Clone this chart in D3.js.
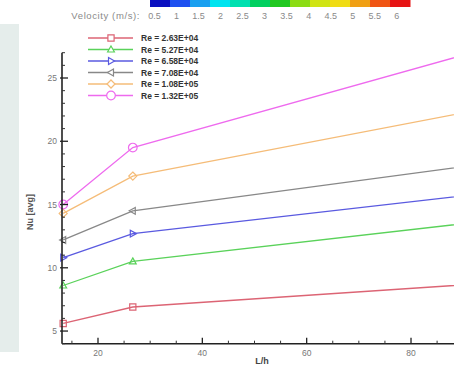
<!DOCTYPE html>
<html>
<head>
<meta charset="utf-8">
<script src="https://cdn.jsdelivr.net/npm/d3@7"></script>
<style>
  html, body { margin: 0; padding: 0; background: #fff; }
  svg { display: block; font-family: "Liberation Sans", Arial, sans-serif; }
</style>
</head>
<body>
<svg id="chart" width="454" height="366"></svg>
<script>
// L/h stations and averaged Nusselt number per Reynolds number
const lh = [13.33, 26.67, 93.33];
const reLabels = ["Re = 2.63E+04", "Re = 5.27E+04", "Re = 6.58E+04", "Re = 7.08E+04", "Re = 1.08E+05", "Re = 1.32E+05"];
const nuRe1 = [5.6, 6.9, 8.74];
const nuRe2 = [8.6, 10.5, 13.64];
const nuRe3 = [10.8, 12.7, 15.84];
const nuRe4 = [12.2, 14.5, 18.18];
const nuRe5 = [14.3, 17.25, 22.5];
const nuRe6 = [15.0, 19.5, 27.19];
const seriesColors = ["#dc6474", "#5ad25a", "#5a5ae0", "#888888", "#f5bc78", "#ee6aee"];
const seriesSymbols = ["square", "delta", "rtri", "ltri", "diamond", "circle"];

// velocity contour legend
const velocityLevels = [0.5, 1, 1.5, 2, 2.5, 3, 3.5, 4, 4.5, 5, 5.5, 6];
const velocityBandColors = ["#0a10c0", "#1e50f0", "#1aa0f0", "#00e4f0", "#00e0b0", "#00d060",
  "#20c820", "#8cdc14", "#d0e414", "#f0dc14", "#f0a014", "#f05514", "#e61414"];

// axis ticks
const xMajor = [20, 40, 60, 80];
const xMinor = d3.range(15, 90, 5);
const yMajor = [5, 10, 15, 20, 25];
const yMinor = d3.range(4, 28, 1);

const svg = d3.select("#chart");

// left side panel
svg.append("rect").attr("x", 0).attr("y", 24).attr("width", 19).attr("height", 328).attr("fill", "#e5edeb");

// ---- colour bar ----
const cb = svg.append("g");
const band = d3.scaleBand().domain(d3.range(velocityBandColors.length)).range([150, 410]);
cb.selectAll("rect").data(velocityBandColors).join("rect")
  .attr("x", (d, i) => band(i)).attr("y", 0)
  .attr("width", band.bandwidth() + 0.5).attr("height", 7)
  .attr("fill", d => d);
const vScale = d3.scaleLinear().domain([0.4, 6.3]).range([150, 410]);
cb.append("text").attr("x", 140).attr("y", 19).attr("text-anchor", "end")
  .attr("font-size", 9.5).attr("letter-spacing", 0.6).attr("fill", "#8a8a8a").text("Velocity (m/s):");
cb.selectAll("text.lv").data(velocityLevels).join("text").attr("class", "lv")
  .attr("x", d => vScale(d)).attr("y", 19).attr("text-anchor", "middle")
  .attr("font-size", 9).attr("fill", "#8a8a8a").text(d => d);

// ---- plot ----
const x = d3.scaleLinear().domain([13.1, 88.24]).range([62, 454]);
const y = d3.scaleLinear().domain([4, 27]).range([343.7, 52.7]);

svg.append("clipPath").attr("id", "plotClip")
  .append("rect").attr("x", 50).attr("y", 40).attr("width", 404).attr("height", 310);

const symbolPath = (kind, s) => {
  switch (kind) {
    case "square": return `M${-s},${-s}H${s}V${s}H${-s}Z`;
    case "delta": return `M0,${-s * 1.15}L${s * 1.1},${s * 0.8}L${-s * 1.1},${s * 0.8}Z`;
    case "rtri": return `M${s * 1.15},0L${-s * 0.8},${-s * 1.1}L${-s * 0.8},${s * 1.1}Z`;
    case "ltri": return `M${-s * 1.15},0L${s * 0.8},${-s * 1.1}L${s * 0.8},${s * 1.1}Z`;
    case "diamond": return `M0,${-s * 1.3}L${s * 1.3},0L0,${s * 1.3}L${-s * 1.3},0Z`;
    default: return `M${s * 1.2},0A${s * 1.2},${s * 1.2} 0 1,1 ${-s * 1.2},0A${s * 1.2},${s * 1.2} 0 1,1 ${s * 1.2},0Z`;
  }
};

const allSeries = [nuRe1, nuRe2, nuRe3, nuRe4, nuRe5, nuRe6].map((vals, i) => ({
  label: reLabels[i], color: seriesColors[i], symbol: seriesSymbols[i],
  points: vals.map((v, j) => ({ x: lh[j], y: v }))
}));

const plot = svg.append("g").attr("clip-path", "url(#plotClip)");
const line = d3.line().x(d => x(d.x)).y(d => y(d.y));
allSeries.forEach(s => {
  plot.append("path").datum(s.points).attr("d", line)
    .attr("fill", "none").attr("stroke", s.color).attr("stroke-width", 1.3);
  plot.selectAll(null).data(s.points).join("path")
    .attr("transform", d => `translate(${x(d.x)},${y(d.y)})`)
    .attr("d", symbolPath(s.symbol, s.symbol === "circle" ? 3.6 : 3.1))
    .attr("fill", "none").attr("stroke", s.color).attr("stroke-width", 1.2);
});

// axes
const axisG = svg.append("g");
const xAxisY = y(4), yAxisX = x(13.1);
axisG.append("line").attr("x1", yAxisX).attr("x2", 454).attr("y1", xAxisY).attr("y2", xAxisY)
  .attr("stroke", "#222").attr("stroke-width", 1.6);
axisG.append("line").attr("x1", yAxisX).attr("x2", yAxisX).attr("y1", y(27)).attr("y2", xAxisY)
  .attr("stroke", "#222").attr("stroke-width", 1.6);

axisG.selectAll("line.xmin").data(xMinor.filter(v => !xMajor.includes(v))).join("line")
  .attr("x1", d => x(d)).attr("x2", d => x(d)).attr("y1", xAxisY).attr("y2", xAxisY - 3)
  .attr("stroke", "#333").attr("stroke-width", 1);
axisG.selectAll("line.xmaj").data(xMajor).join("line")
  .attr("x1", d => x(d)).attr("x2", d => x(d)).attr("y1", xAxisY).attr("y2", xAxisY - 6)
  .attr("stroke", "#222").attr("stroke-width", 1.3);
axisG.selectAll("text.xl").data(xMajor).join("text")
  .attr("x", d => x(d)).attr("y", 356).attr("text-anchor", "middle")
  .attr("font-size", 8.5).attr("fill", "#777").text(d => d);

axisG.selectAll("line.ymin").data(yMinor.filter(v => !yMajor.includes(v))).join("line")
  .attr("x1", yAxisX).attr("x2", yAxisX + 3).attr("y1", d => y(d)).attr("y2", d => y(d))
  .attr("stroke", "#333").attr("stroke-width", 1);
axisG.selectAll("line.ymaj").data(yMajor).join("line")
  .attr("x1", yAxisX - 2).attr("x2", yAxisX + 6).attr("y1", d => y(d)).attr("y2", d => y(d))
  .attr("stroke", "#222").attr("stroke-width", 1.3);
axisG.selectAll("text.yl").data(yMajor).join("text")
  .attr("x", yAxisX - 5).attr("y", d => y(d) + 3).attr("text-anchor", "end")
  .attr("font-size", 8.5).attr("fill", "#777").text(d => d);

// axis titles
svg.append("text").attr("x", 262).attr("y", 364).attr("text-anchor", "middle")
  .attr("font-size", 9).attr("font-weight", "bold").attr("fill", "#444").text("L/h");
svg.append("text").attr("transform", `translate(33,212) rotate(-90)`)
  .attr("text-anchor", "middle").attr("font-size", 9).attr("font-weight", "bold")
  .attr("fill", "#555").text("Nu [avg]");

// legend
const legend = svg.append("g");
allSeries.forEach((s, i) => {
  const ly = 38 + i * 11.5;
  legend.append("line").attr("x1", 88).attr("x2", 133).attr("y1", ly).attr("y2", ly)
    .attr("stroke", s.color).attr("stroke-width", 1.3);
  legend.append("path").attr("transform", `translate(111,${ly})`)
    .attr("d", symbolPath(s.symbol, s.symbol === "circle" ? 3.6 : 3.1))
    .attr("fill", "#fff").attr("stroke", s.color).attr("stroke-width", 1.2);
  legend.append("text").attr("x", 141).attr("y", ly + 3).attr("font-size", 8.5)
    .attr("font-weight", "bold").attr("fill", "#333").text(s.label);
});
</script>
</body>
</html>
